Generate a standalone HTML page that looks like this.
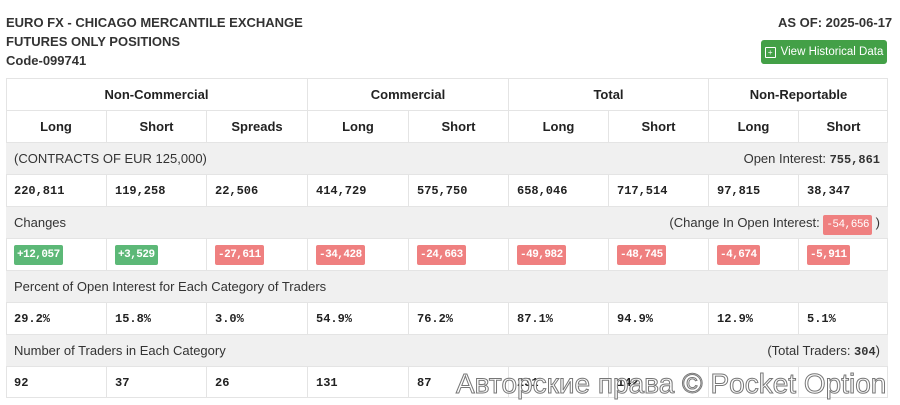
<!DOCTYPE html>
<html><head><meta charset="utf-8"><style>
body{margin:0;width:900px;height:405px;background:#fff;font-family:"Liberation Sans",Arial,sans-serif;color:#333;position:relative;overflow:hidden}
.a{position:absolute}
.t{font-weight:bold;font-size:13px;color:#333}
.row{position:absolute;left:6px;width:882px;height:32px;border-top:1px solid #e4e4e4;box-sizing:border-box}
.g{background:#f0f0f0}
.c{position:absolute;top:0;height:100%;box-sizing:border-box;border-left:1px solid #e4e4e4;display:flex;align-items:center}
.h{justify-content:center;font-weight:bold;font-size:13px;color:#222}
.m{font-family:"Liberation Mono",monospace;font-weight:bold;font-size:12px;padding-left:8px;color:#222}
.s{font-size:13px;color:#333;padding:0 8px;display:flex;align-items:center}
.b{font-family:"Liberation Mono",monospace;font-size:11px;color:#fff;padding:4px 3px;border-radius:2px;letter-spacing:-0.5px}
.gr{background:#5cb877}.rd{background:#ef8080}
</style></head><body>
<div class="a t" style="left:6px;top:15px">EURO FX - CHICAGO MERCANTILE EXCHANGE</div>
<div class="a t" style="left:6px;top:34px">FUTURES ONLY POSITIONS</div>
<div class="a t" style="left:6px;top:53px">Code-099741</div>
<div class="a t" style="left:778px;top:15px">AS OF: 2025-06-17</div>
<div class="a" style="left:761px;top:40px;width:126px;height:24px;background:#43a047;border-radius:3px;color:#fff;font-size:11.5px;display:flex;align-items:center;justify-content:center;gap:5px;white-space:nowrap"><span style="display:inline-block;width:9px;height:9px;border:1.5px solid #fff;border-radius:1px;font-size:8px;line-height:9px;text-align:center">+</span>View Historical Data</div>
<div class="a" style="left:6px;top:78px;width:882px;height:320px;border:1px solid #e4e4e4;box-sizing:border-box"></div>

<div class="row" style="top:78px">
<div class="c h" style="left:0;width:301px;border-left:0">Non-Commercial</div>
<div class="c h" style="left:301px;width:201px">Commercial</div>
<div class="c h" style="left:502px;width:200px">Total</div>
<div class="c h" style="left:702px;width:180px">Non-Reportable</div></div>
<div class="row" style="top:110px">
<div class="c h" style="left:0;width:100px;border-left:0">Long</div>
<div class="c h" style="left:100px;width:100px">Short</div>
<div class="c h" style="left:200px;width:101px">Spreads</div>
<div class="c h" style="left:301px;width:101px">Long</div>
<div class="c h" style="left:402px;width:100px">Short</div>
<div class="c h" style="left:502px;width:100px">Long</div>
<div class="c h" style="left:602px;width:100px">Short</div>
<div class="c h" style="left:702px;width:90px">Long</div>
<div class="c h" style="left:792px;width:90px">Short</div></div>

<div class="row g s" style="top:142px;justify-content:space-between"><span>(CONTRACTS OF EUR 125,000)</span><span>Open Interest: <b style="font-family:'Liberation Mono',monospace;font-size:12px">755,861</b></span></div>
<div class="row" style="top:174px">
<div class="c m" style="left:0;width:100px;border-left:0">220,811</div>
<div class="c m" style="left:100px;width:100px">119,258</div>
<div class="c m" style="left:200px;width:101px">22,506</div>
<div class="c m" style="left:301px;width:101px">414,729</div>
<div class="c m" style="left:402px;width:100px">575,750</div>
<div class="c m" style="left:502px;width:100px">658,046</div>
<div class="c m" style="left:602px;width:100px">717,514</div>
<div class="c m" style="left:702px;width:90px">97,815</div>
<div class="c m" style="left:792px;width:90px">38,347</div></div>

<div class="row g s" style="top:206px;justify-content:space-between"><span>Changes</span><span>(Change In Open Interest: <span class="b rd">-54,656</span> )</span></div>
<div class="row" style="top:238px">
<div class="c m" style="left:0;width:100px;border-left:0"><span class="b gr">+12,057</span></div>
<div class="c m" style="left:100px;width:100px"><span class="b gr">+3,529</span></div>
<div class="c m" style="left:200px;width:101px"><span class="b rd">-27,611</span></div>
<div class="c m" style="left:301px;width:101px"><span class="b rd">-34,428</span></div>
<div class="c m" style="left:402px;width:100px"><span class="b rd">-24,663</span></div>
<div class="c m" style="left:502px;width:100px"><span class="b rd">-49,982</span></div>
<div class="c m" style="left:602px;width:100px"><span class="b rd">-48,745</span></div>
<div class="c m" style="left:702px;width:90px"><span class="b rd">-4,674</span></div>
<div class="c m" style="left:792px;width:90px"><span class="b rd">-5,911</span></div></div>

<div class="row g s" style="top:270px"><span>Percent of Open Interest for Each Category of Traders</span></div>
<div class="row" style="top:302px">
<div class="c m" style="left:0;width:100px;border-left:0">29.2%</div>
<div class="c m" style="left:100px;width:100px">15.8%</div>
<div class="c m" style="left:200px;width:101px">3.0%</div>
<div class="c m" style="left:301px;width:101px">54.9%</div>
<div class="c m" style="left:402px;width:100px">76.2%</div>
<div class="c m" style="left:502px;width:100px">87.1%</div>
<div class="c m" style="left:602px;width:100px">94.9%</div>
<div class="c m" style="left:702px;width:90px">12.9%</div>
<div class="c m" style="left:792px;width:90px">5.1%</div></div>

<div class="row g s" style="top:334px;justify-content:space-between"><span>Number of Traders in Each Category</span><span>(Total Traders: <b style="font-family:'Liberation Mono',monospace;font-size:12px">304</b>)</span></div>
<div class="row" style="top:366px">
<div class="c m" style="left:0;width:100px;border-left:0">92</div>
<div class="c m" style="left:100px;width:100px">37</div>
<div class="c m" style="left:200px;width:101px">26</div>
<div class="c m" style="left:301px;width:101px">131</div>
<div class="c m" style="left:402px;width:100px">87</div>
<div class="c m" style="left:502px;width:100px">231</div>
<div class="c m" style="left:602px;width:100px">142</div>
<div class="c m" style="left:702px;width:90px"></div>
<div class="c m" style="left:792px;width:90px"></div></div>

<div class="a" style="left:456px;top:368px;font-size:28px;color:#fff;-webkit-text-stroke:1px #777;white-space:nowrap;letter-spacing:0">Авторские права © Pocket Option</div>
</body></html>
